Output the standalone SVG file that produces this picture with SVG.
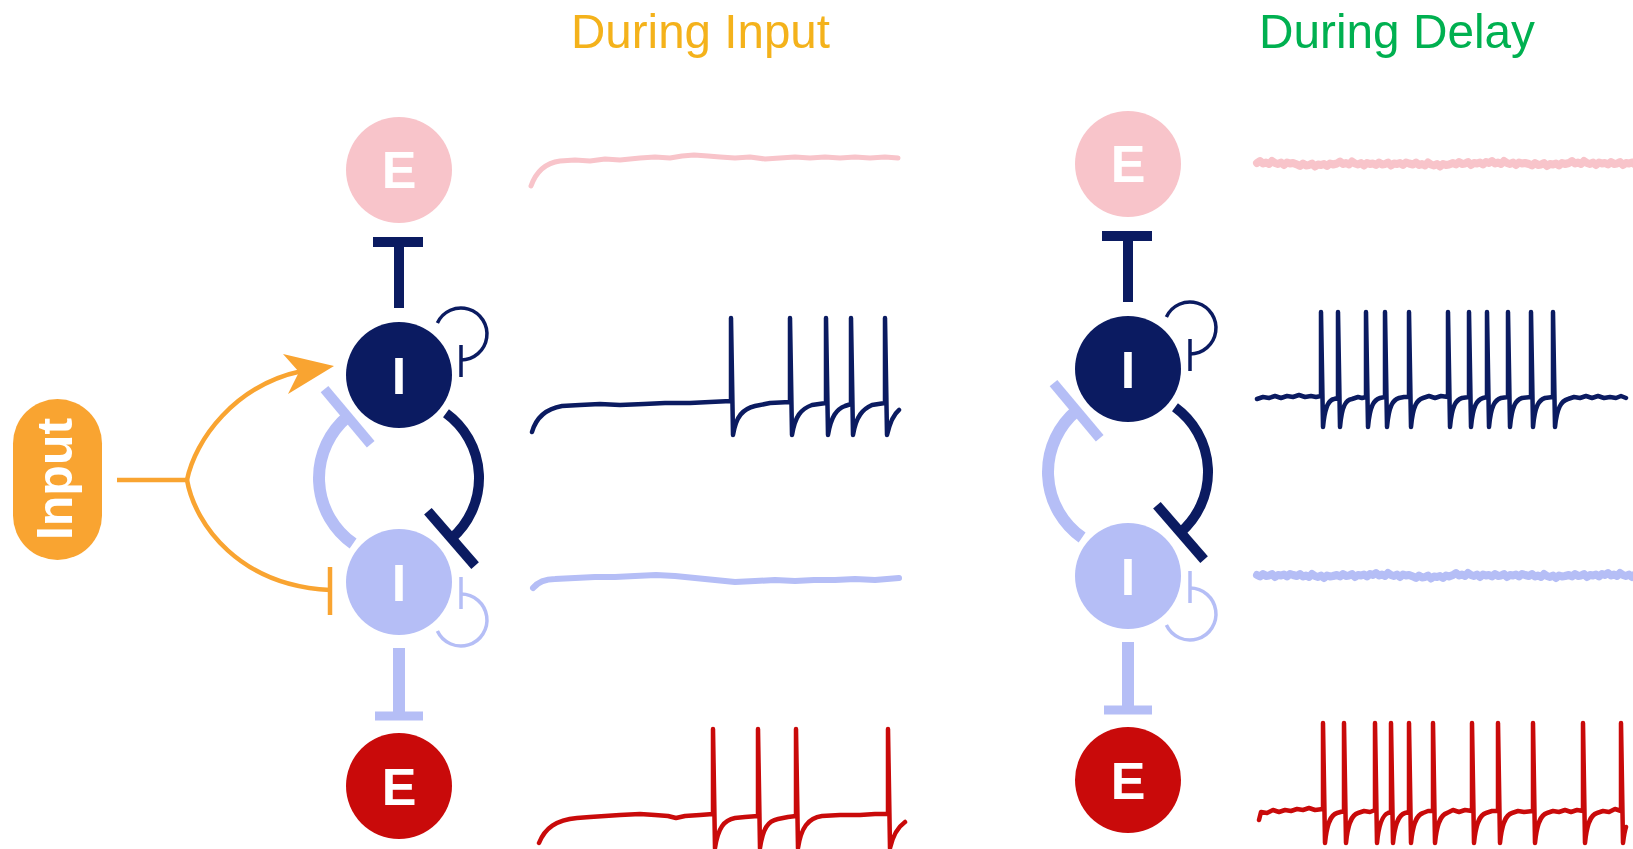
<svg xmlns="http://www.w3.org/2000/svg" width="1633" height="849" viewBox="0 0 1633 849">
<style>
.bg{fill:#ffffff}
.title{font-family:"Liberation Sans",Arial,sans-serif;font-size:49px}
.lbl{font-family:"Liberation Sans",Arial,sans-serif;font-weight:bold;font-size:52px;fill:#ffffff;text-anchor:middle}
.pink{fill:#F8C4CA}.navy{fill:#0B1B61}.light{fill:#B5BEF6}.red{fill:#C90A0A}
.c{fill:none;stroke-linecap:butt;stroke-linejoin:round}
.sn{stroke:#0B1B61}.sl{stroke:#B5BEF6}.so{stroke:#F9A431}.sp{stroke:#F8C4CA}.sr{stroke:#C90A0A}
.tr{fill:none;stroke-linejoin:round;stroke-linecap:round}
</style>
<rect class="bg" x="0" y="0" width="1633" height="849"/>

<text class="title" x="571" y="48" fill="#F4B21B" textLength="259" lengthAdjust="spacingAndGlyphs">During Input</text>
<text class="title" x="1259" y="48" fill="#00B050" textLength="276" lengthAdjust="spacingAndGlyphs">During Delay</text>

<!-- Input node -->
<g id="input">
<rect x="13" y="399" width="89" height="161" rx="44.5" fill="#F9A431"/>
<text class="lbl" transform="translate(72,479) rotate(-90)" x="0" y="0" style="font-size:50px">Input</text>
</g>

<!-- Input connectors -->
<g id="connectors-input">
<path class="c so" stroke-width="4.5" d="M117,480 L187,480"/>
<path class="c so" stroke-width="4.5" d="M187,480 C195,440 235,385 302,371"/>
<polygon fill="#F9A431" points="334,366 283,354 299,372 288,394"/>
<path class="c so" stroke-width="4.5" d="M187,480 C195,525 240,586 330,590"/>
<path class="c so" stroke-width="4.5" d="M330,567 L330,615"/>
</g>

<g id="panel-left">
<g id="connectors-net-left">
<path class="c sn" stroke-width="10" d="M399,242 L399,308"/>
<path class="c sn" stroke-width="10" d="M373,242 L423,242"/>
<path class="c sn" stroke-width="3.5" d="M437.4,323 A26,26 0 1 1 461,360"/>
<path class="c sn" stroke-width="3.5" d="M461,345 L461,377"/>
<path class="c sn" stroke-width="10" d="M446,413.3 A80,80 0 0 1 451.5,538.4"/>
<path class="c sn" stroke-width="10" d="M427.9,511.2 L475.1,565.6"/>
<path class="c sl" stroke-width="12" d="M347.6,416.7 A80,80 0 0 0 353.1,543.5"/>
<path class="c sl" stroke-width="10" d="M324.5,389.1 L370.7,444.3"/>
<path class="c sl" stroke-width="3.5" d="M461,594 A26,26 0 1 1 437.4,631"/>
<path class="c sl" stroke-width="3.5" d="M461,577 L461,609"/>
<path class="c sl" stroke-width="12" d="M399,648 L399,716"/>
<path class="c sl" stroke-width="9" d="M375,716 L423,716"/>
</g>
<g id="E1-input"><circle class="pink" cx="399" cy="170" r="53"/><text class="lbl" x="399" y="188">E</text></g>
<g id="I1-input"><circle class="navy" cx="399" cy="375" r="53"/><text class="lbl" x="399" y="394">I</text></g>
<g id="I2-input"><circle class="light" cx="399" cy="582" r="53"/><text class="lbl" x="399" y="601">I</text></g>
<g id="E2-input"><circle class="red" cx="399" cy="786" r="53"/><text class="lbl" x="399" y="805">E</text></g>
</g>

<g id="panel-right" transform="translate(729,-6)">
<g id="connectors-net-right">
<path class="c sn" stroke-width="10" d="M399,242 L399,308"/>
<path class="c sn" stroke-width="10" d="M373,242 L423,242"/>
<path class="c sn" stroke-width="3.5" d="M437.4,323 A26,26 0 1 1 461,360"/>
<path class="c sn" stroke-width="3.5" d="M461,345 L461,377"/>
<path class="c sn" stroke-width="10" d="M446,413.3 A80,80 0 0 1 451.5,538.4"/>
<path class="c sn" stroke-width="10" d="M427.9,511.2 L475.1,565.6"/>
<path class="c sl" stroke-width="12" d="M347.6,416.7 A80,80 0 0 0 353.1,543.5"/>
<path class="c sl" stroke-width="10" d="M324.5,389.1 L370.7,444.3"/>
<path class="c sl" stroke-width="3.5" d="M461,594 A26,26 0 1 1 437.4,631"/>
<path class="c sl" stroke-width="3.5" d="M461,577 L461,609"/>
<path class="c sl" stroke-width="12" d="M399,648 L399,716"/>
<path class="c sl" stroke-width="9" d="M375,716 L423,716"/>
</g>
<g id="E1-delay"><circle class="pink" cx="399" cy="170" r="53"/><text class="lbl" x="399" y="188">E</text></g>
<g id="I1-delay"><circle class="navy" cx="399" cy="375" r="53"/><text class="lbl" x="399" y="394">I</text></g>
<g id="I2-delay"><circle class="light" cx="399" cy="582" r="53"/><text class="lbl" x="399" y="601">I</text></g>
<g id="E2-delay"><circle class="red" cx="399" cy="786" r="53"/><text class="lbl" x="399" y="805">E</text></g>
</g>

<!-- Traces: during input -->
<g id="traces-input">
<path class="tr sp" stroke-width="5" d="M531,186 C536,172 545,163 560,161 L575,160 L590,161 L605,159 L620,160 L640,158 L655,157 L670,158 L682,156 L694,155 L708,156 L720,157 L735,158 L750,157 L765,159 L780,158 L795,157 L810,158 L825,157 L840,158 L855,157 L870,158 L885,157 L898,158"/>
<path class="tr sn" stroke-width="4.5" d="M532,432 C536,418 545,409 562,406 L580,405 L600,404 L620,405 L644,404 L665,403 L690,403 L710,402 L731,401 L731,318 L733,435 C736,416 743,409 755,406 L770,403 L790,402 L790,318 L792,435 C795,416 801,409 812,405 L826,403 L826,318 L828,435 C831,416 837,409 845,406 L851,404 L851,318 L853,435 C856,416 863,409 872,405 L885,403 L885,318 L887,435 C890,422 894,414 899,410"/>
<path class="tr sl" stroke-width="6" d="M533,588 C538,582 545,579 555,579 L575,578 L595,577 L615,577 L635,576 L656,575 L675,576 L695,578 L715,580 L735,582 L755,581 L775,580 L795,581 L814,580 L835,580 L855,579 L875,580 L899,578"/>
<path class="tr sr" stroke-width="4.5" d="M539,843 C545,828 556,820 577,818 L590,817 L605,816 L620,815 L640,814 L655,815 L668,816 L676,818 L685,816 L700,815 L713,814 L713,729 L715,848 C718,828 724,820 735,818 L745,817 L758,816 L758,729 L760,848 C763,828 768,821 778,819 L788,817 L796,816 L796,729 L798,848 C801,828 808,818 822,816 L840,815 L860,815 L875,814 L888,814 L888,729 L890,848 C893,835 898,827 905,822"/>
</g>

<!-- Traces: during delay -->
<g id="traces-delay">
<path class="tr sp" stroke-width="8" d="M1257,163 l3,-2 l3,2.5 l3,-1 l3,1.5 l3,-3 l3,2 l3,1 l3,-1.5 l3,2.5 l3,-2.5 l3,1 l3,-0.5 l4,1.5 l3,1.5 l3,-2.5 l3,2 l3,-0.5 l3,-1.5 l3,3 l3,-2 l3,0.5 l3,-1 l3,2 l3,-2.5 l3,1 l4,-1 l3,-2 l3,2.5 l3,-1 l3,1.5 l3,-3 l3,2 l3,1 l3,-1.5 l3,2.5 l3,-2.5 l3,1 l3,-0.5 l3,1.5 l3,-2.5 l3,2 l3,-0.5 l3,-1.5 l3,3 l3,-2 l3,0.5 l3,-1 l3,2 l3,-2.5 l3,1 l4,1 l3,-2 l3,2.5 l3,-1 l3,1.5 l3,-3 l3,2 l3,1 l3,-1.5 l3,2.5 l3,-2.5 l3,1 l3,-0.5 l4,-1.5 l3,1.5 l3,-2.5 l3,2 l3,-0.5 l3,-1.5 l3,3 l3,-2 l3,0.5 l3,-1 l3,2 l3,-2.5 l3,1 l3,-2 l3,2.5 l3,-1 l3,1.5 l3,-3 l3,2 l3,1 l3,-1.5 l3,2.5 l3,-2.5 l3,1 l3,-0.5 l4,1 l3,1.5 l3,-2.5 l3,2 l3,-0.5 l3,-1.5 l3,3 l3,-2 l3,0.5 l3,-1 l3,2 l3,-2.5 l3,1 l4,-1 l3,-2 l3,2.5 l3,-1 l3,1.5 l3,-3 l3,2 l3,1 l3,-1.5 l3,2.5 l3,-2.5 l3,1 l3,-0.5 l3,1.5 l3,-2.5 l3,2 l3,-0.5 l3,-1.5 l3,3 l3,-2 l3,0.5 l3,-1 l3,2 l3,-2.5 l3,1 l7,-1 l7,1 l7,0"/>
<path class="tr sn" stroke-width="4.5" d="M1257,399 L1263,397 L1269,398 L1275,396 L1281,398 L1287,396 L1293,397 L1299,395 L1305,397 L1311,396 L1316,397 L1321,396 L1321,312 L1323,427 C1325,405 1329,400 1334,399 L1338,398 L1338,312 L1340,427 C1342,405 1346,400 1352,399 L1358,397 L1362,398 L1366,397 L1366,312 L1368,427 C1370,405 1374,400 1380,398 L1385,397 L1385,312 L1387,427 C1389,405 1393,400 1399,398 L1404,397 L1409,397 L1409,312 L1411,427 C1413,405 1417,400 1423,398 L1429,396 L1435,398 L1441,396 L1448,397 L1448,312 L1450,427 C1452,405 1456,400 1462,398 L1469,397 L1469,312 L1471,427 C1473,405 1477,400 1483,398 L1487,397 L1487,312 L1489,427 C1491,405 1495,400 1501,398 L1508,397 L1508,312 L1510,427 C1512,405 1516,400 1522,398 L1531,397 L1531,312 L1533,427 C1535,405 1539,400 1545,398 L1553,397 L1553,312 L1555,427 C1557,408 1561,401 1568,399 L1574,397 L1580,398 L1586,396 L1592,398 L1598,396 L1604,398 L1610,397 L1616,398 L1621,396 L1626,398"/>
<path class="tr sl" stroke-width="8" d="M1257,575 l3,1.5 l3,-2.5 l3,2 l3,-0.5 l3,-1.5 l3,3 l3,-2 l3,0.5 l3,-1 l3,2 l3,-2.5 l3,1 l4,1 l3,-2 l3,2.5 l3,-1 l3,1.5 l3,-3 l3,2 l3,1 l3,-1.5 l3,2.5 l3,-2.5 l3,1 l3,-0.5 l4,-1 l3,1.5 l3,-2.5 l3,2 l3,-0.5 l3,-1.5 l3,3 l3,-2 l3,0.5 l3,-1 l3,2 l3,-2.5 l3,1 l3,-2 l3,2.5 l3,-1 l3,1.5 l3,-3 l3,2 l3,1 l3,-1.5 l3,2.5 l3,-2.5 l3,1 l3,-0.5 l4,1.5 l3,1.5 l3,-2.5 l3,2 l3,-0.5 l3,-1.5 l3,3 l3,-2 l3,0.5 l3,-1 l3,2 l3,-2.5 l3,1 l4,-1.5 l3,-2 l3,2.5 l3,-1 l3,1.5 l3,-3 l3,2 l3,1 l3,-1.5 l3,2.5 l3,-2.5 l3,1 l3,-0.5 l3,1.5 l3,-2.5 l3,2 l3,-0.5 l3,-1.5 l3,3 l3,-2 l3,0.5 l3,-1 l3,2 l3,-2.5 l3,1 l4,1 l3,-2 l3,2.5 l3,-1 l3,1.5 l3,-3 l3,2 l3,1 l3,-1.5 l3,2.5 l3,-2.5 l3,1 l3,-0.5 l4,-1 l3,1.5 l3,-2.5 l3,2 l3,-0.5 l3,-1.5 l3,3 l3,-2 l3,0.5 l3,-1 l3,2 l3,-2.5 l3,1 l3,-2 l3,2.5 l3,-1 l3,1.5 l3,-3 l3,2 l3,1 l3,-1.5 l3,2.5 l3,-2.5 l3,1 l3,-0.5 l7,1 l7,-1 l7,0"/>
<path class="tr sr" stroke-width="4.5" d="M1259,820 L1261,812 L1267,813 L1273,810 L1279,812 L1285,810 L1291,811 L1297,809 L1303,810 L1309,808 L1315,810 L1323,809 L1323,723 L1325,843 C1327,822 1331,815 1337,813 L1344,811 L1344,723 L1346,843 C1348,822 1352,815 1358,813 L1364,811 L1370,812 L1375,810 L1375,723 L1377,843 C1379,822 1383,815 1388,813 L1391,812 L1391,723 L1393,843 C1395,822 1399,815 1405,813 L1409,812 L1409,723 L1411,843 C1413,822 1417,815 1423,813 L1428,811 L1433,811 L1433,723 L1435,843 C1437,822 1441,815 1447,813 L1453,810 L1459,812 L1465,810 L1472,811 L1472,723 L1474,843 C1476,822 1480,815 1486,813 L1492,811 L1498,811 L1498,723 L1500,843 C1502,822 1506,815 1512,813 L1518,811 L1524,812 L1533,811 L1533,723 L1535,843 C1537,822 1541,815 1547,813 L1553,811 L1559,812 L1565,810 L1571,812 L1577,810 L1583,811 L1583,723 L1585,843 C1587,822 1591,815 1597,813 L1603,811 L1609,812 L1615,809 L1621,811 L1621,723 L1623,843 C1624,835 1625,830 1626,827"/>
</g>
</svg>
